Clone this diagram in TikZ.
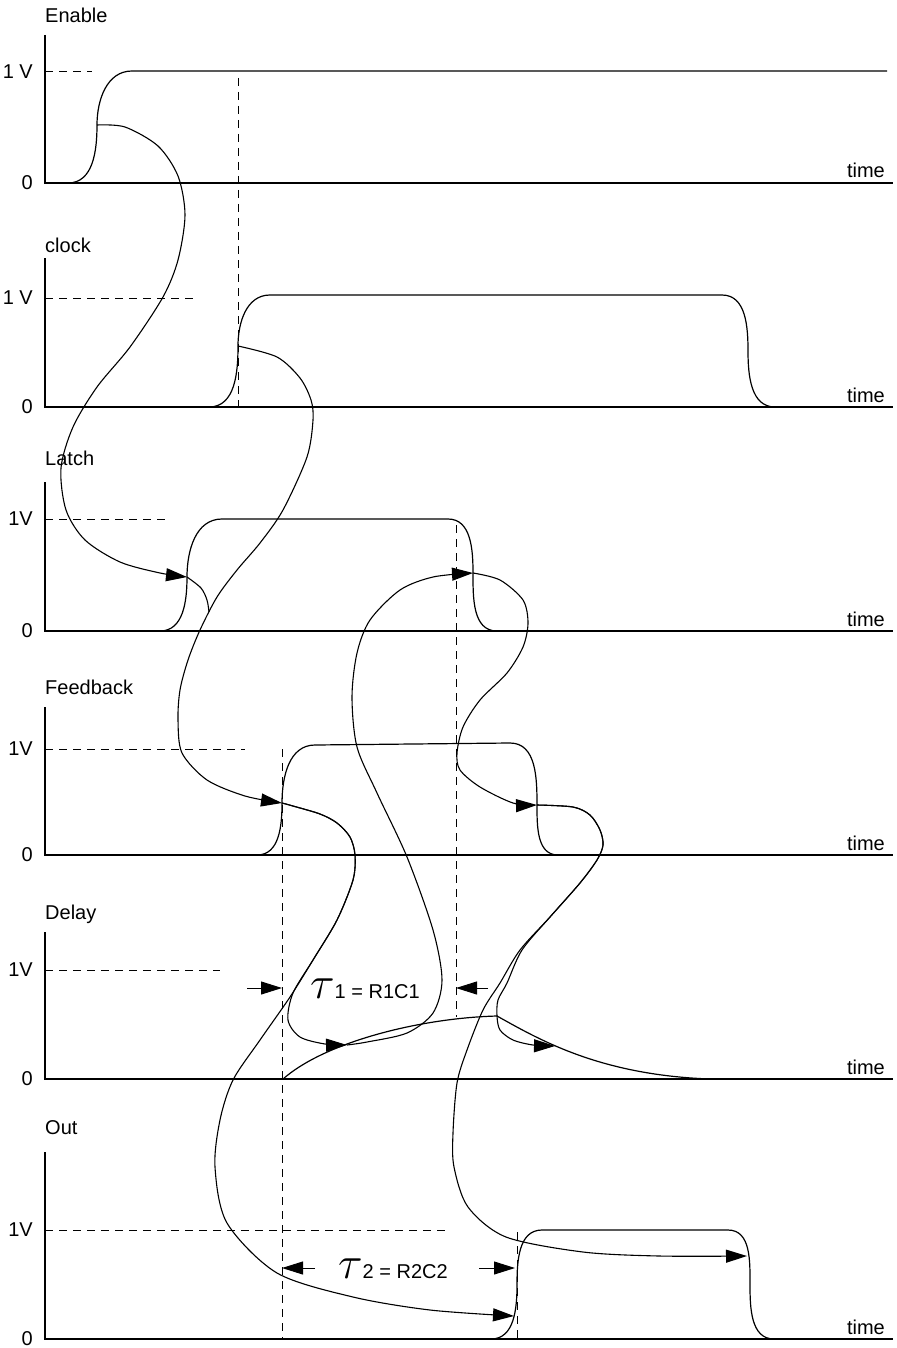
\documentclass[tikz,border=0pt]{standalone}
\usepackage{fontspec}
\setmainfont{Liberation Sans}
\usetikzlibrary{arrows.meta}
\tikzset{
  sig/.style={line width=1.2pt},
  axis/.style={line width=1.4pt},
  guide/.style={line width=1pt, dash pattern=on 8pt off 6pt},
  causal/.style={line width=1.1pt, -{Triangle[length=21pt,width=13pt]}},
  wire/.style={line width=1.1pt},
  span/.style={line width=1pt, -{Triangle[length=21pt,width=13pt]}},
  lbl/.style={font=\fontsize{20}{24}\selectfont, inner sep=0pt},
  taulbl/.style={font=\fontsize{20}{24}\selectfont, inner sep=0pt, anchor=base west}
}

\begin{document}
\begin{tikzpicture}[x=1pt,y=-1pt]
\useasboundingbox (0,0) rectangle (896,1348);

% axes, levels, labels
\foreach \nm/\txt/\ylab/\ytop/\yone/\ybase/\xdash/\vone in {
  en/Enable/23/35/72/183/92/{1 V},
  ck/clock/252/258/298/407/193/{1 V},
  la/Latch/465/482/519/631/165/1V,
  fb/Feedback/694/707/749/855/245/1V,
  de/Delay/919/932/970/1079/220/1V,
  ou/Out/1134/1152/1230/1339/445/1V}{
  \node[lbl, anchor=base west] (\nm-name) at (45,\ylab) {\txt};
  \draw[axis] (45,\ytop) -- (45,\ybase) -- (893,\ybase);
  \draw[guide] (45,\yone) -- (\xdash,\yone);
  \node[lbl, anchor=east] (\nm-one) at (33,\yone) {\vone};
  \node[lbl, anchor=east] (\nm-zero) at (33,\ybase) {0};
  \node[lbl, anchor=base east] (\nm-time) at (885,\ybase-5) {time};
}

% edge points
\coordinate (en-rise) at (97,125);
\coordinate (ck-rise) at (238,346);
\coordinate (la-rise) at (187,577);
\coordinate (la-fall) at (473,573);
\coordinate (fb-rise) at (282,803);
\coordinate (fb-fall) at (537,805);
\coordinate (de-charge) at (347,1045);
\coordinate (de-peak) at (497,1016);
\coordinate (de-fall) at (555,1046);
\coordinate (ou-rise) at (514,1316);
\coordinate (ou-fall) at (747,1256);

% signals
\draw[sig] (68,183) to[out=0,in=-90] (en-rise) to[out=90,in=180] (132,71) -- (887,71);
\draw[sig] (209,407) to[out=0,in=-90] (ck-rise) to[out=90,in=180] (270,295) -- (722,295)
  to[out=0,in=90] (748,351) to[out=-90,in=180] (775,407);
\draw[sig] (160,631) to[out=0,in=-90] (la-rise) to[out=90,in=180] (222,519) -- (448,519)
  to[out=0,in=90] (la-fall) to[out=-90,in=180] (497,631);
\draw[sig] (257,855) to[out=0,in=-90] (fb-rise) to[out=90,in=180] (315,745) -- (510,743)
  to[out=0,in=90] (fb-fall) to[out=-90,in=180] (558,855);
\draw[sig] (283,1079) .. controls (325,1042) and (420,1018) .. (de-peak)
  .. controls (540,1040) and (600,1075) .. (710,1079);
\draw[sig] (491,1339) to[out=0,in=-90] (517,1285) to[out=90,in=180] (542,1230) -- (728,1230)
  to[out=0,in=90] (750,1285) to[out=-90,in=180] (774,1339);

% guides
\draw[guide] (238,78) -- (238,407);
\draw[guide] (456,525) -- (456,1017);
\draw[guide] (282,749) -- (282,1339);
\draw[guide] (517,1232) -- (517,1339);

% cause and effect
\draw[causal] plot[smooth] coordinates {(en-rise) (125,127) (158,146) (178,176) (185,215)
  (178,260) (163,297) (130,347) (97,387) (73,427) (61,468) (66,510) (85,540) (120,562)
  (160,573) (la-rise)};
\draw[wire] plot[smooth] coordinates {(la-rise) (201,588) (207,600) (209,612)};
\draw[causal] plot[smooth] coordinates {(ck-rise) (277,357) (300,378) (311,400)
  (313,420) (307,457) (283,510) (260,543) (237,570) (217,597) (200,630) (188,660)
  (180,690) (178,720) (182,753) (207,780) (245,796) (fb-rise)};
\draw[causal] plot[smooth] coordinates {(fb-rise) (293,806) (320,814) (337,823) (350,837)
  (355,855) (353,880) (337,920) (313,960) (293,993) (288,1020) (300,1037) (325,1044)
  (de-charge)};
\draw[causal] plot[smooth] coordinates {(fb-rise) (293,806) (320,814) (337,823) (350,837)
  (355,855) (353,880) (337,920) (313,960) (290,997) (260,1040) (233,1080) (220,1120)
  (215,1167) (227,1223) (277,1273) (353,1297) (430,1310) (ou-rise)};
\draw[causal] plot[smooth] coordinates {(de-charge) (367,1042) (407,1033) (433,1013)
  (442,980) (433,930) (407,857) (377,793) (357,747) (352,697) (357,653) (370,620)
  (400,590) (433,577) (la-fall)};
\draw[causal] plot[smooth] coordinates {(la-fall) (500,580) (523,600) (528,623) (523,647)
  (507,673) (480,700) (463,727) (457,753) (460,770) (480,787) (513,803) (fb-fall)};
\draw[causal] plot[smooth] coordinates {(fb-fall) (573,807) (590,815) (600,830) (603,845)
  (597,860) (580,883) (550,917) (522,950) (507,983) (498,1000) (497,1016) (500,1030)
  (513,1040) (533,1045) (de-fall)};
\draw[causal] plot[smooth] coordinates {(fb-fall) (573,807) (590,815) (600,830) (603,845)
  (597,860) (580,883) (550,917) (520,950) (500,983) (483,1010) (467,1050) (457,1083)
  (453,1133) (454,1167) (468,1207) (506,1237) (583,1252) (659,1256) (ou-fall)};

% time constants
\coordinate (t1l) at (247,988);
\coordinate (t1r) at (488,988);
\draw[span] (t1l) -- (282,988);
\draw[span] (t1r) -- (456,988);
\node[taulbl] (tau1) at (310,998) {\scalebox{2.2}{$\tau$}1 = R1C1};
\coordinate (t2l) at (315,1268);
\coordinate (t2r) at (479,1268);
\draw[span] (t2l) -- (282,1268);
\draw[span] (t2r) -- (515,1268);
\node[taulbl] (tau2) at (338,1278) {\scalebox{2.2}{$\tau$}2 = R2C2};
\end{tikzpicture}
\end{document}
